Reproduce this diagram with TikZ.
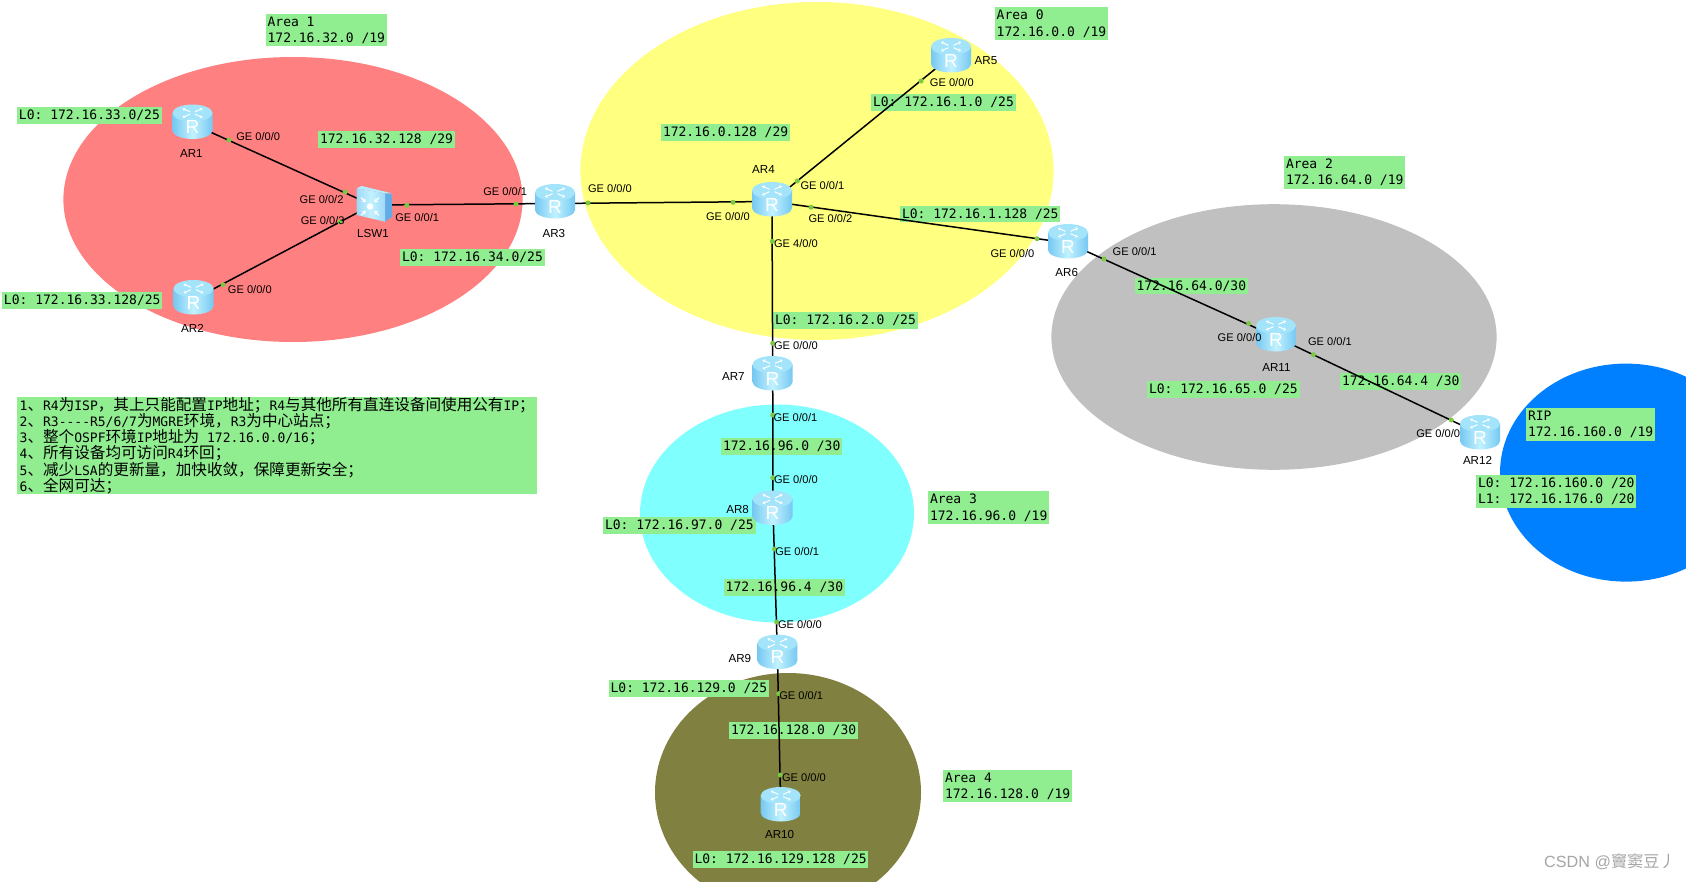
\documentclass[tikz,border=0pt]{standalone}
\usepackage{fontspec}
\usepackage{xcolor}
\usepackage{tikz}
\setmainfont{Liberation Sans}
\newfontfamily\addrfont{DejaVu Sans Mono}
\newfontfamily\cjkfont{Noto Sans CJK SC}
\usetikzlibrary{
  arrows.meta
}
\definecolor{isArea0}{HTML}{FFFF80}
\definecolor{isArea1}{HTML}{FF8080}
\definecolor{isArea2}{HTML}{C0C0C0}
\definecolor{isArea3}{HTML}{80FFFF}
\definecolor{isArea4}{HTML}{808040}
\definecolor{isRip}{HTML}{0080FF}
\definecolor{isNote}{HTML}{90EE90}
\definecolor{isDot}{HTML}{7AC943}
\definecolor{isBodyEdge}{HTML}{76C8F2}
\definecolor{isBodyMid}{HTML}{C2F2FF}
\definecolor{isBodyTop}{HTML}{A4E4FA}
\definecolor{isSwSide}{HTML}{62ACE6}
\definecolor{isSwTop}{HTML}{B4EEFF}
\definecolor{isMark}{HTML}{A6A6A6}
\newcommand{\zh}[1]{{\cjkfont\fontsize{15.6}{16.2}\selectfont #1}}
\newcommand{\routerbody}[1]{%
  \begin{scope}[shift={(#1)}]
    \shade[left color=isBodyEdge, right color=isBodyEdge, middle color=isBodyMid]
      (-20,-8.5) -- (-20,9) arc [start angle=180, end angle=0, x radius=20, y radius=8.5] -- (20,-8.5) -- cycle;
    \fill[isBodyTop] (0,-8.5) ellipse [x radius=20, y radius=8.5];
    \foreach \sx/\sy in {-1/-1,1/-1,-1/1,1/1}
      \draw[white, line width=1pt, -{Stealth[length=2.5pt,width=3.5pt]}] (\sx*2.5,-8.5+\sy*1.2) -- (\sx*10,-8.5+\sy*4.5);
  \end{scope}}
\newcommand{\switchbody}[1]{%
  \begin{scope}[shift={(#1)}]
    \fill[isSwSide] (13,-10.7) -- (19.7,-10.7) -- (20.3,12.7) -- (13,17.7) -- cycle;
    \fill[isSwTop] (-15.3,-15.7) -- (-10.3,-18) -- (19.7,-10.7) -- (13,-10.7) -- cycle;
    \shade[left color=isBodyEdge!70!white, right color=isBodyEdge!70!white, middle color=isBodyMid]
      (-15.3,-15.7) -- (13,-10.7) -- (13,17.7) -- (-15.3,11) -- cycle;
    \fill[white] (-2,2.5) circle (3.2);
    \foreach \ang in {45,135,225,315}
      \draw[white, line width=1.3pt, -{Stealth[length=3.5pt,width=5pt]}] (-2,2.5)++(\ang:12.5) -- ++(\ang:-6.5);
  \end{scope}}
\tikzset{
  areablob/.style={fill=#1, draw=none},
  addrbox/.style={fill=isNote, anchor=north west, align=left, inner xsep=1.8pt, inner ysep=3pt,
    font=\addrfont\fontsize{13}{16.2}\selectfont\frenchspacing},
  devlabel/.style={font=\fontsize{11.6}{13}\selectfont, inner sep=0pt, yshift=-0.5pt},
  portlabel/.style={font=\fontsize{11.1}{13}\selectfont, inner sep=0pt, xshift=0.2pt, yshift=-0.8pt},
  portdot/.style={circle, fill=isDot, minimum size=5pt, inner sep=0pt},
  link/.style={draw=black, line width=1.5pt},
  routericon/.style={rectangle, minimum height=35pt, minimum width=40pt, inner sep=0pt,
    text=white, text height=24pt, text depth=0pt, font=\fontsize{19}{19}\selectfont},
  switchicon/.style={rectangle, minimum width=36pt, minimum height=36pt, inner sep=0pt}
}
\begin{document}
\begin{tikzpicture}[x=1pt, y=-1pt]
  \path[use as bounding box, clip] (0,0) rectangle (1686,881);
  \fill[white] (0,0) rectangle (1686,881);

  % areas
  \foreach \col/\cx/\cy/\rx/\ry in {
    isArea1/293/199.5/229.6/142.5,
    isArea0/817/171/236.6/169,
    isArea2/1274/337/222.6/132.8,
    isRip/1626/472.6/126/109,
    isArea3/777/513.5/137/109,
    isArea4/788/792.5/133/119.5}{
    \fill[areablob=\col] (\cx,\cy) ellipse [x radius=\rx, y radius=\ry];
  }

  % address boxes
  \foreach \i/\x/\y/\txt in {
    a1/265.6/13.4/{Area 1\\172.16.32.0 /19},
    b/17/106.5/{L0: 172.16.33.0/25},
    c/318/131/{172.16.32.128 /29},
    d/2/291.5/{L0: 172.16.33.128/25},
    e/400/248.5/{L0: 172.16.34.0/25},
    a0/994.7/7/{Area 0\\172.16.0.0 /19},
    f/661/123.7/{172.16.0.128 /29},
    g/871/93.5/{L0: 172.16.1.0 /25},
    h/900/205.4/{L0: 172.16.1.128 /25},
    j/773/312/{L0: 172.16.2.0 /25},
    a2/1284/155.4/{Area 2\\172.16.64.0 /19},
    k/1134.5/277.4/{172.16.64.0/30},
    l/1147/380.6/{L0: 172.16.65.0 /25},
    m/1340/373/{172.16.64.4 /30},
    r/1526/408/{RIP\\172.16.160.0 /19},
    n/1476/474.7/{L0: 172.16.160.0 /20\\L1: 172.16.176.0 /20},
    o/721/437.7/{172.16.96.0 /30},
    a3/928/491/{Area 3\\172.16.96.0 /19},
    p/603/517/{L0: 172.16.97.0 /25},
    q/723.7/578.5/{172.16.96.4 /30},
    s/608.6/679.6/{L0: 172.16.129.0 /25},
    t/729/721.5/{172.16.128.0 /30},
    a4/943/769.4/{Area 4\\172.16.128.0 /19},
    u/692.5/850.6/{L0: 172.16.129.128 /25}}{
    \node[addrbox] (box\i) at (\x,\y) {\txt};
  }

  \node[addrbox, inner xsep=2.5pt, inner ysep=0.5pt] (notes) at (17,396.4) {%
    1\zh{、}R4\zh{为}ISP\zh{，其上只能配置}IP\zh{地址；}R4\zh{与其他所有直连设备间使用公有}IP\zh{；}\\
    2\zh{、}R3----R5/6/7\zh{为}MGRE\zh{环境，}R3\zh{为中心站点；}\\
    3\zh{、整个}OSPF\zh{环境}IP\zh{地址为} 172.16.0.0/16\zh{；}\\
    4\zh{、所有设备均可访问}R4\zh{环回；}\\
    5\zh{、减少}LSA\zh{的更新量，加快收敛，保障更新安全；}\\
    6\zh{、全网可达；}};

  % link ends
  \foreach \name/\x/\y in {
    AR1/192.5/124, AR2/193.5/299.5, AR3/555/203.5, AR4/772/201.5, AR5/950.6/56.5, AR6/1068/243,
    AR7/772.7/375, AR8/773/510, AR9/777.4/654, AR10/780.7/806, AR11/1276/337, AR12/1480/434, LSW1/372/205}{
    \coordinate (\name) at (\x,\y);
  }

  % links
  \foreach \from/\to in {AR1/LSW1, AR2/LSW1, LSW1/AR3, AR3/AR4, AR4/AR5, AR4/AR6, AR4/AR7,
    AR7/AR8, AR8/AR9, AR9/AR10, AR6/AR11, AR11/AR12}{
    \draw[link] (\from) -- (\to);
  }

  % devices
  \foreach \name/\x/\y/\lx/\ly in {
    AR1/192.5/121.5/191.4/152.7,
    AR2/193.5/297/192.5/328,
    AR3/555/201/553.8/233.3,
    AR4/772/199/763.5/168.8,
    AR5/951/55/986/60.2,
    AR6/1068/241/1066.7/272,
    AR7/772.5/373/733.4/376.3,
    AR8/772.5/507.5/737.6/508.6,
    AR9/777.4/651.6/739.8/658,
    AR10/780.7/804/779.6/834.4,
    AR11/1276/334/1276.4/366.7,
    AR12/1480/432/1477.5/460.2}{
    \routerbody{\x,\y}
    \node[routericon] (\name icon) at (\x,\y) {R};
    \node[devlabel] (\name name) at (\lx,\ly) {\name};
  }
  \switchbody{372,204}
  \node[switchicon] (LSW1 icon) at (372,204) {};
  \node[devlabel] (LSW1 name) at (373,233.3) {LSW1};

  % ports
  \foreach \i/\dx/\dy/\tx/\ty/\txt in {
    1/229/140/258/136/{GE 0/0/0},
    2/345/192/321.4/199/{GE 0/0/2},
    3/340/222/322.5/220/{GE 0/0/3},
    4/406.8/205.3/417/217/{GE 0/0/1},
    5/516/204/505/191/{GE 0/0/1},
    6/223/284.7/249.6/288.7/{GE 0/0/0},
    7/588/203/609.7/188/{GE 0/0/0},
    8/733/202.3/727.7/216/{GE 0/0/0},
    9/797.3/181/822.3/185/{GE 0/0/1},
    10/811/207.2/830.3/218/{GE 0/0/2},
    11/772.3/241.3/795.7/243/{GE 4/0/0},
    12/1037/238.7/1012.3/253/{GE 0/0/0},
    13/772.7/343.3/795.7/345/{GE 0/0/0},
    14/921/81/951.6/81.7/{GE 0/0/0},
    15/1104/259/1134.4/250.5/{GE 0/0/1},
    16/1248.7/323.5/1239.4/337/{GE 0/0/0},
    17/1313.4/354.7/1329.8/341/{GE 0/0/1},
    18/1451.3/420/1438/432.7/{GE 0/0/0},
    19/772.7/415/795.3/417/{GE 0/0/1},
    20/772.8/477.7/795.7/479/{GE 0/0/0},
    21/774.5/549/797/551/{GE 0/0/1},
    22/776.7/622/799.7/624/{GE 0/0/0},
    23/778.7/693.7/801/695/{GE 0/0/1},
    24/780.3/775/803.7/777/{GE 0/0/0}}{
    \node[portdot] (dot\i) at (\dx,\dy) {};
    \node[portlabel] (port\i) at (\tx,\ty) {\txt};
  }

  \node[inner sep=0pt, text=isMark, font=\fontsize{16.2}{17}\selectfont] (mark) at (1610,862) {CSDN @{\cjkfont 竇窦豆丿}};
\end{tikzpicture}
\end{document}
